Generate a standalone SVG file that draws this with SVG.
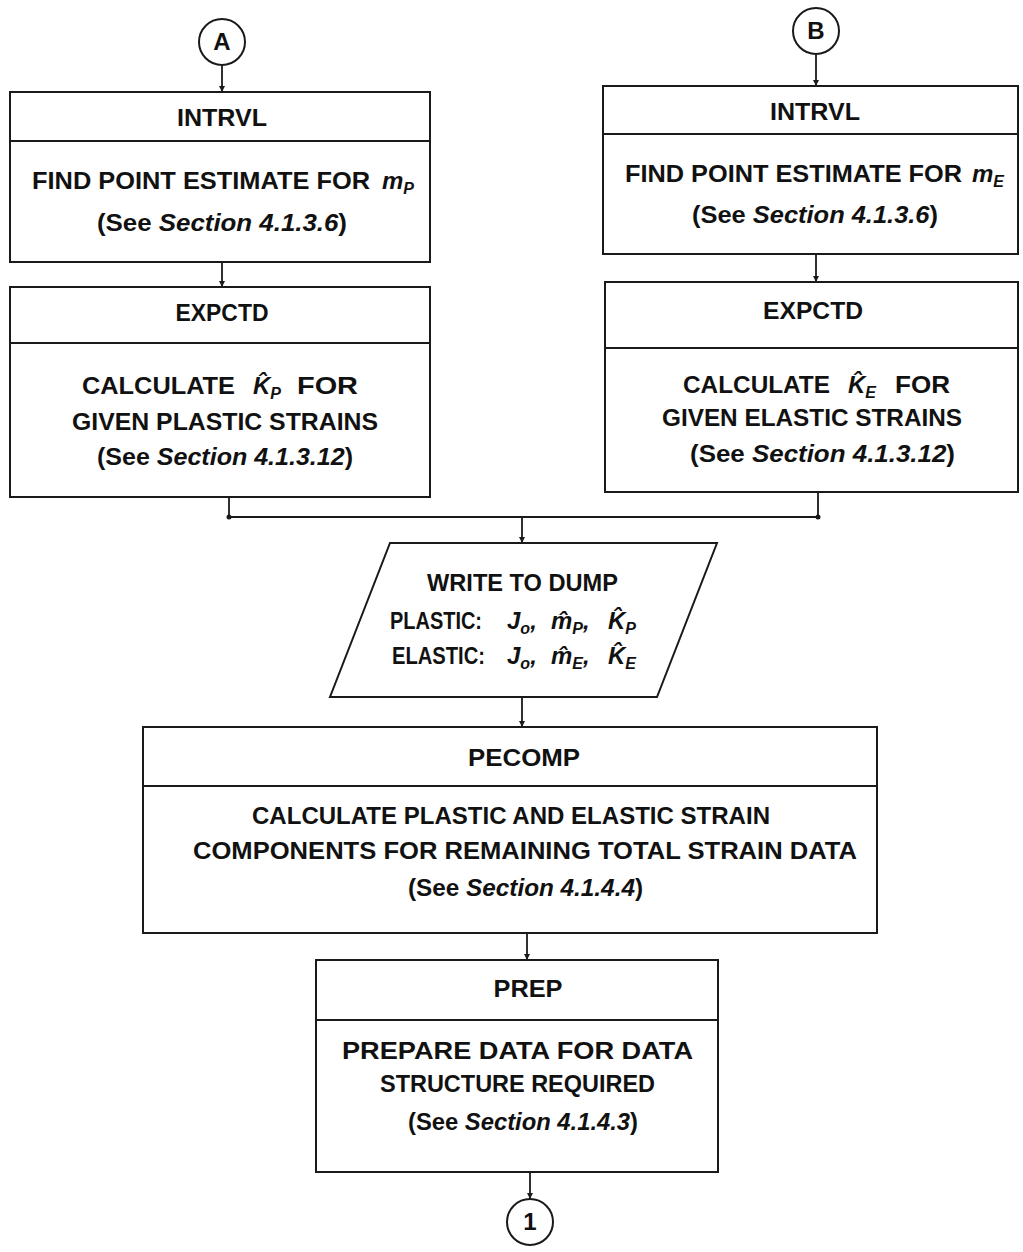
<svg xmlns="http://www.w3.org/2000/svg" width="1023" height="1252" viewBox="0 0 1023 1252">
  <style>
    .bg { fill: #ffffff; }
    .box { fill: #ffffff; stroke: #1a1a1a; stroke-width: 2; }
    .div { stroke: #1a1a1a; stroke-width: 1.8; fill: none; }
    .wire { stroke: #1a1a1a; stroke-width: 1.8; fill: none; }
    .t { font-family: "Liberation Sans", Arial, Helvetica, sans-serif; font-weight: bold; font-size: 24px; fill: #111111; }
    .c { text-anchor: middle; }
    .i { font-style: italic; }
    .sub { font-size: 16px; }
  </style>
  <defs>
    <marker id="tip" viewBox="0 0 6 6" refX="6" refY="3" markerWidth="6" markerHeight="6" markerUnits="userSpaceOnUse" orient="auto">
      <path d="M0,0 L6,3 L0,6 Z" fill="#1a1a1a"/>
    </marker>
  </defs>
  <rect class="bg" x="0" y="0" width="1023" height="1252"/>

  <!-- connectors -->
  <g id="connectors">
    <path class="wire" d="M222,65 V92" marker-end="url(#tip)"/>
    <path class="wire" d="M222,262 V287" marker-end="url(#tip)"/>
    <path class="wire" d="M816,54 V86" marker-end="url(#tip)"/>
    <path class="wire" d="M816,254 V282" marker-end="url(#tip)"/>
    <path class="wire" d="M229,497 V517 H818 V492"/>
    <circle cx="229" cy="517" r="2.5" fill="#1a1a1a"/>
    <circle cx="818" cy="517" r="2.5" fill="#1a1a1a"/>
    <path class="wire" d="M522,517 V543" marker-end="url(#tip)"/>
    <path class="wire" d="M522,697 V727" marker-end="url(#tip)"/>
    <path class="wire" d="M527,933 V960" marker-end="url(#tip)"/>
    <path class="wire" d="M530,1172 V1199" marker-end="url(#tip)"/>
  </g>

  <!-- connector A -->
  <g id="node-a">
    <circle class="box" cx="222" cy="42" r="23"/>
    <text class="t c" x="222" y="50">A</text>
  </g>

  <!-- connector B -->
  <g id="node-b">
    <circle class="box" cx="816" cy="31" r="23"/>
    <text class="t c" x="816" y="39">B</text>
  </g>

  <!-- INTRVL, plastic branch -->
  <g id="intrvl-p">
    <rect class="box" x="10" y="92" width="420" height="170"/>
    <line class="div" x1="10" y1="141" x2="430" y2="141"/>
    <text class="t c" x="222" y="126" textLength="90" lengthAdjust="spacingAndGlyphs">INTRVL</text>
    <text class="t" x="32" y="189" textLength="338" lengthAdjust="spacingAndGlyphs">FIND POINT ESTIMATE FOR</text>
    <text class="t i" x="382" y="189">m<tspan class="sub" dy="5">P</tspan></text>
    <text class="t" x="97" y="231" textLength="250" lengthAdjust="spacingAndGlyphs">(See <tspan class="i">Section 4.1.3.6</tspan>)</text>
  </g>

  <!-- EXPCTD, plastic branch -->
  <g id="expctd-p">
    <rect class="box" x="10" y="287" width="420" height="210"/>
    <line class="div" x1="10" y1="343" x2="430" y2="343"/>
    <text class="t c" x="222" y="321" textLength="93" lengthAdjust="spacingAndGlyphs">EXPCTD</text>
    <text class="t" x="82" y="394" textLength="153" lengthAdjust="spacingAndGlyphs">CALCULATE</text>
    <text class="t i" x="253" y="394">K̂<tspan class="sub" dy="5">P</tspan></text>
    <text class="t" x="297" y="394" textLength="61" lengthAdjust="spacingAndGlyphs">FOR</text>
    <text class="t" x="72" y="430" textLength="306" lengthAdjust="spacingAndGlyphs">GIVEN PLASTIC STRAINS</text>
    <text class="t" x="97" y="465" textLength="256" lengthAdjust="spacingAndGlyphs">(See <tspan class="i">Section 4.1.3.12</tspan>)</text>
  </g>

  <!-- INTRVL, elastic branch -->
  <g id="intrvl-e">
    <rect class="box" x="603" y="86" width="415" height="168"/>
    <line class="div" x1="603" y1="134" x2="1018" y2="134"/>
    <text class="t c" x="815" y="120" textLength="90" lengthAdjust="spacingAndGlyphs">INTRVL</text>
    <text class="t" x="625" y="182" textLength="337" lengthAdjust="spacingAndGlyphs">FIND POINT ESTIMATE FOR</text>
    <text class="t i" x="972" y="182">m<tspan class="sub" dy="5">E</tspan></text>
    <text class="t" x="692" y="223" textLength="246" lengthAdjust="spacingAndGlyphs">(See <tspan class="i">Section 4.1.3.6</tspan>)</text>
  </g>

  <!-- EXPCTD, elastic branch -->
  <g id="expctd-e">
    <rect class="box" x="605" y="282" width="413" height="210"/>
    <line class="div" x1="605" y1="348" x2="1018" y2="348"/>
    <text class="t c" x="813" y="319" textLength="100" lengthAdjust="spacingAndGlyphs">EXPCTD</text>
    <text class="t" x="683" y="393" textLength="147" lengthAdjust="spacingAndGlyphs">CALCULATE</text>
    <text class="t i" x="848" y="393">K̂<tspan class="sub" dy="5">E</tspan></text>
    <text class="t" x="895" y="393" textLength="55" lengthAdjust="spacingAndGlyphs">FOR</text>
    <text class="t" x="662" y="426" textLength="300" lengthAdjust="spacingAndGlyphs">GIVEN ELASTIC STRAINS</text>
    <text class="t" x="690" y="462" textLength="265" lengthAdjust="spacingAndGlyphs">(See <tspan class="i">Section 4.1.3.12</tspan>)</text>
  </g>

  <!-- output to dump file -->
  <g id="write-dump">
    <polygon class="box" points="390,543 717,543 657,697 330,697"/>
    <text class="t" x="427" y="591" textLength="191" lengthAdjust="spacingAndGlyphs">WRITE TO DUMP</text>
    <text class="t" x="390" y="629" textLength="92" lengthAdjust="spacingAndGlyphs">PLASTIC:</text>
    <text class="t i" x="507" y="629">J<tspan class="sub" dy="5">o</tspan><tspan dy="-5">,</tspan></text>
    <text class="t i" x="551" y="629">m̂<tspan class="sub" dy="5">P</tspan><tspan dy="-5">,</tspan></text>
    <text class="t i" x="608" y="629">K̂<tspan class="sub" dy="5">P</tspan></text>
    <text class="t" x="392" y="664" textLength="93" lengthAdjust="spacingAndGlyphs">ELASTIC:</text>
    <text class="t i" x="507" y="664">J<tspan class="sub" dy="5">o</tspan><tspan dy="-5">,</tspan></text>
    <text class="t i" x="551" y="664">m̂<tspan class="sub" dy="5">E</tspan><tspan dy="-5">,</tspan></text>
    <text class="t i" x="608" y="664">K̂<tspan class="sub" dy="5">E</tspan></text>
  </g>

  <!-- PECOMP -->
  <g id="pecomp">
    <rect class="box" x="143" y="727" width="734" height="206"/>
    <line class="div" x1="143" y1="786" x2="877" y2="786"/>
    <text class="t c" x="524" y="766" textLength="112" lengthAdjust="spacingAndGlyphs">PECOMP</text>
    <text class="t" x="252" y="824" textLength="518" lengthAdjust="spacingAndGlyphs">CALCULATE PLASTIC AND ELASTIC STRAIN</text>
    <text class="t" x="193" y="859" textLength="664" lengthAdjust="spacingAndGlyphs">COMPONENTS FOR REMAINING TOTAL STRAIN DATA</text>
    <text class="t" x="408" y="896" textLength="235" lengthAdjust="spacingAndGlyphs">(See <tspan class="i">Section 4.1.4.4</tspan>)</text>
  </g>

  <!-- PREP -->
  <g id="prep">
    <rect class="box" x="316" y="960" width="402" height="212"/>
    <line class="div" x1="316" y1="1020" x2="718" y2="1020"/>
    <text class="t c" x="528" y="997" textLength="69" lengthAdjust="spacingAndGlyphs">PREP</text>
    <text class="t" x="342" y="1059" textLength="351" lengthAdjust="spacingAndGlyphs">PREPARE DATA FOR DATA</text>
    <text class="t" x="380" y="1092" textLength="275" lengthAdjust="spacingAndGlyphs">STRUCTURE REQUIRED</text>
    <text class="t" x="408" y="1130" textLength="230" lengthAdjust="spacingAndGlyphs">(See <tspan class="i">Section 4.1.4.3</tspan>)</text>
  </g>

  <!-- off-page connector 1 -->
  <g id="node-1">
    <circle class="box" cx="530" cy="1222" r="23"/>
    <text class="t c" x="530" y="1230">1</text>
  </g>
</svg>
